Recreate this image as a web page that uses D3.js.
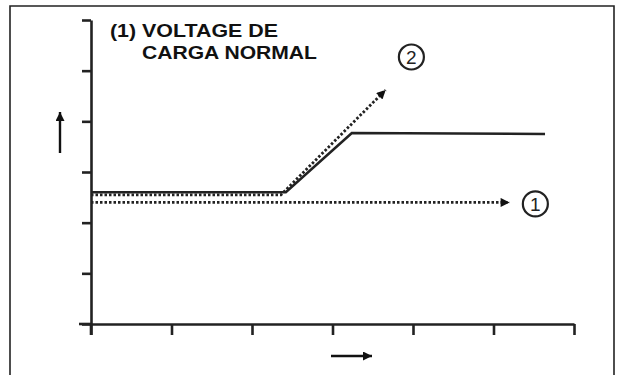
<!DOCTYPE html>
<html>
<head>
<style>
  body { margin: 0; background: #fff; }
  .title { font: bold 19px "Liberation Sans", Arial, sans-serif; fill: #111; }
  .axis path, .axis line { stroke: #222; stroke-width: 2.6; }
  .lab { font: 19px "Liberation Sans", Arial, sans-serif; fill: #222; text-anchor: middle; }
</style>
<script src="https://d3js.org/d3.v7.min.js"></script>
</head>
<body>
<svg width="621" height="375"></svg>
<script>
// tick positions (no labels in the picture)
var xTicks = [0, 1, 2, 3, 4, 5, 6];
var yTicks = [0, 1, 2, 3, 4, 5, 6];

// line 1: constant voltage (dotted, arrow)
var line1X = [0, 5.2];
var line1Y = [2.4, 2.4];
// line 2: rising voltage (dotted, arrow)
var line2X = [0, 2.36, 3.66];
var line2Y = [2.55, 2.55, 4.62];
// normal charge voltage (solid)
var solidX = [0, 2.42, 3.24, 5.64];
var solidY = [2.6, 2.6, 3.77, 3.75];

var labels = [{ t: "1", x: 5.52, y: 2.37 }, { t: "2", x: 3.98, y: 5.27 }];

var svg = d3.select("svg");

// frame
svg.append("path")
  .attr("d", "M10,380 V6 H614 V380")
  .attr("fill", "none").attr("stroke", "#222").attr("stroke-width", 1.6);

var x = d3.scaleLinear().domain([0, 6]).range([91, 574]);
var y = d3.scaleLinear().domain([0, 6]).range([324, 20]);

svg.append("defs").append("marker")
  .attr("id", "head").attr("viewBox", "0 0 10 10")
  .attr("refX", 10).attr("refY", 5)
  .attr("markerWidth", 12).attr("markerHeight", 9)
  .attr("markerUnits", "userSpaceOnUse")
  .attr("orient", "auto")
  .append("path").attr("d", "M0,0 L10,5 L0,10 Z").attr("fill", "#111");

// axes
svg.append("g").attr("class", "axis")
  .attr("transform", "translate(" + x(0) + ",0)")
  .call(d3.axisLeft(y).tickValues(yTicks).tickSize(9).tickSizeOuter(0).tickFormat(""));
svg.append("g").attr("class", "axis")
  .attr("transform", "translate(0," + y(0) + ")")
  .call(d3.axisBottom(x).tickValues(xTicks).tickSize(11).tickSizeOuter(0).tickFormat(""));
// axis overhangs
svg.append("line").attr("x1", x(0)).attr("x2", x(0)).attr("y1", y(0)).attr("y2", y(0) + 11)
  .attr("stroke", "#222").attr("stroke-width", 2.6);
svg.append("line").attr("x1", x(0) - 12).attr("x2", x(0)).attr("y1", y(0)).attr("y2", y(0))
  .attr("stroke", "#222").attr("stroke-width", 2.6);

var line = d3.line().x(function (d) { return x(d[0]); }).y(function (d) { return y(d[1]); });

svg.append("path")
  .attr("d", line(d3.zip(solidX, solidY)))
  .attr("fill", "none").attr("stroke", "#222").attr("stroke-width", 2.6);

svg.append("path")
  .attr("d", line(d3.zip(line2X, line2Y)))
  .attr("fill", "none").attr("stroke", "#222").attr("stroke-width", 2.8)
  .attr("stroke-dasharray", "2.5,2").attr("marker-end", "url(#head)");

svg.append("path")
  .attr("d", line(d3.zip(line1X, line1Y)))
  .attr("fill", "none").attr("stroke", "#222").attr("stroke-width", 2.6)
  .attr("stroke-dasharray", "2.5,2").attr("marker-end", "url(#head)");

// circled labels
var lg = svg.selectAll(".lbl").data(labels).enter().append("g")
  .attr("transform", function (d) { return "translate(" + x(d.x) + "," + y(d.y) + ")"; });
lg.append("circle").attr("r", 12.5).attr("fill", "none").attr("stroke", "#222").attr("stroke-width", 2.2);
lg.append("text").attr("class", "lab").attr("y", 7).text(function (d) { return d.t; });

// direction arrows
svg.append("line").attr("x1", 60).attr("y1", 153).attr("x2", 60).attr("y2", 112)
  .attr("stroke", "#111").attr("stroke-width", 2.4).attr("marker-end", "url(#head)");
svg.append("line").attr("x1", 331).attr("y1", 356).attr("x2", 372).attr("y2", 356)
  .attr("stroke", "#111").attr("stroke-width", 2.4).attr("marker-end", "url(#head)");

// title
svg.append("text").attr("class", "title").attr("x", 110).attr("y", 37)
  .attr("textLength", 168).attr("lengthAdjust", "spacingAndGlyphs").text("(1) VOLTAGE DE");
svg.append("text").attr("class", "title").attr("x", 142).attr("y", 59)
  .attr("textLength", 175).attr("lengthAdjust", "spacingAndGlyphs").text("CARGA NORMAL");
</script>
</body>
</html>
